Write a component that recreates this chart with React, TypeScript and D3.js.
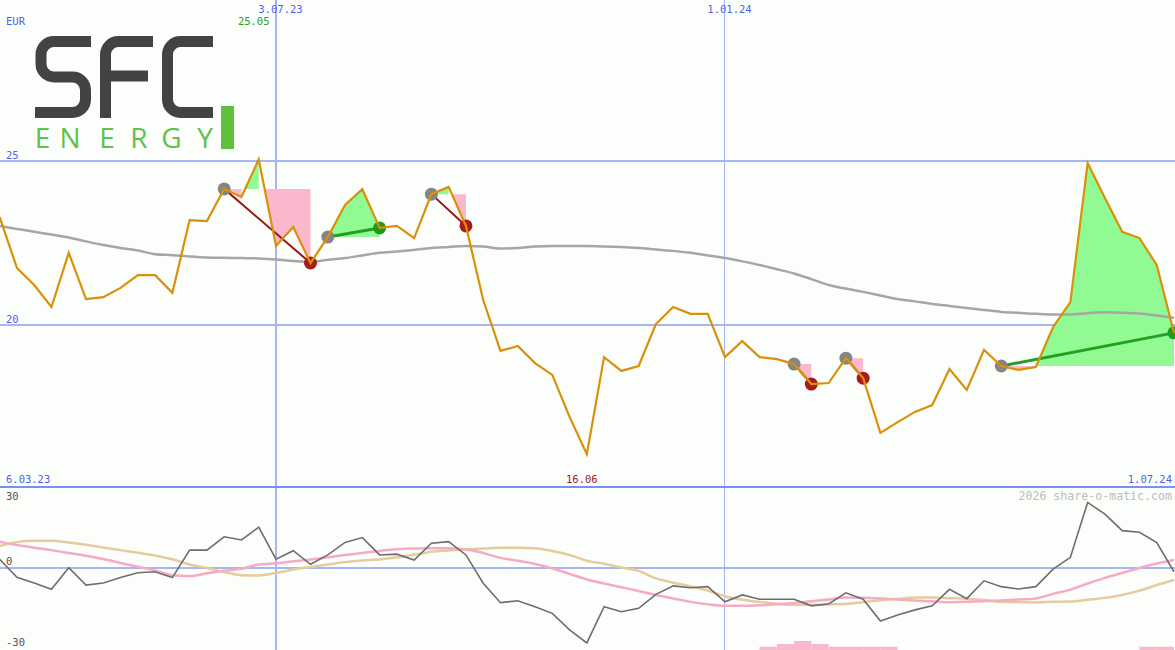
import React from 'react';
import * as d3 from 'd3';

const W = 1175;
const H = 650;

// weekly closing prices (EUR), Mondays from 13.03.23 to 1.07.24
const firstWeek = '2023-03-13';
const lastWeek = '2024-07-01';
const axisStart = '2023-03-06';
const price = [
  23.29, 21.74, 21.22, 20.55, 22.2, 20.79, 20.85, 21.13, 21.52, 21.52,
  20.98, 23.2, 23.17, 24.15, 23.9, 25.05, 22.41, 22.99, 21.89, 22.68,
  23.66, 24.14, 22.96, 23.02, 22.65, 23.99, 24.21, 23.02, 20.76, 19.21,
  19.36, 18.84, 18.48, 17.2, 16.06, 19.02, 18.6, 18.75, 20.03, 20.55,
  20.34, 20.34, 19.02, 19.51, 19.02, 18.96, 18.81, 18.2, 18.23, 18.99,
  18.38, 16.71, 17.04, 17.35, 17.56, 18.66, 18.02, 19.24, 18.75, 18.63,
  18.72, 19.94, 20.7, 24.94, 23.87, 22.84, 22.65, 21.83, 19.76,
];
// long moving average (grey)
const movingAvg = [
  23.02, 22.93, 22.84, 22.76, 22.67, 22.55, 22.44, 22.35, 22.27, 22.16,
  22.13, 22.09, 22.06, 22.05, 22.04, 22.03, 22.0, 21.95, 21.92, 21.99,
  22.04, 22.12, 22.2, 22.24, 22.29, 22.35, 22.38, 22.41, 22.39, 22.33,
  22.35, 22.39, 22.41, 22.41, 22.41, 22.39, 22.38, 22.35, 22.3, 22.26,
  22.2, 22.12, 22.04, 21.94, 21.83, 21.7, 21.57, 21.4, 21.22, 21.11,
  21.01, 20.9, 20.79, 20.72, 20.64, 20.58, 20.52, 20.46, 20.4, 20.37,
  20.34, 20.32, 20.32, 20.36, 20.39, 20.37, 20.35, 20.29, 20.22,
];
// lower panel: momentum (dark grey), pink and tan smoothed lines
const momentum = [
  3.3, -3.5, -5.6, -8.0, 0.1, -6.4, -5.6, -3.6, -1.8, -1.4,
  -3.6, 6.7, 6.7, 11.7, 10.5, 15.3, 3.3, 6.5, 1.4, 4.9,
  9.6, 11.4, 4.9, 5.2, 3.0, 9.3, 9.9, 4.9, -5.7, -13.0,
  -12.3, -14.5, -17.0, -23.2, -28.1, -14.5, -16.4, -15.1, -9.9, -6.7,
  -7.4, -7.0, -12.7, -10.1, -11.7, -11.7, -11.7, -14.2, -13.5, -9.3,
  -11.7, -19.9, -17.6, -15.7, -14.2, -8.0, -11.5, -4.8, -7.0, -7.9,
  -7.0, -0.4, 4.0, 24.6, 20.2, 14.0, 13.4, 9.5, -1.4,
];
const pinkLine = [
  9.9, 8.6, 7.6, 6.7, 5.6, 4.6, 3.4, 1.9, 0.5, -0.9,
  -2.7, -3.0, -2.0, -1.0, -0.3, 1.3, 1.8, 2.5, 3.2, 4.0,
  4.9, 5.6, 6.4, 7.0, 7.3, 7.4, 7.4, 6.9, 5.6, 3.8,
  2.7, 1.5, -0.2, -2.2, -4.3, -5.8, -7.2, -8.6, -10.1, -11.4,
  -12.7, -13.6, -14.2, -14.2, -14.0, -13.6, -13.1, -12.5, -11.8, -11.1,
  -11.2, -11.4, -11.8, -12.2, -12.5, -12.8, -12.7, -12.5, -12.2, -11.8,
  -11.4, -9.7, -8.1, -5.8, -3.7, -1.9, 0.0, 1.7, 3.0,
];
const tanLine = [
  8.2, 9.7, 10.2, 10.2, 9.6, 8.7, 7.7, 6.7, 5.7, 4.7,
  3.3, 1.3, 0.0, -1.5, -2.7, -2.8, -1.9, -0.6, 0.4, 1.3,
  2.2, 2.8, 3.2, 4.0, 5.0, 6.1, 6.6, 7.0, 7.3, 7.6,
  7.6, 7.4, 6.4, 4.9, 2.7, 1.6, 0.2, -1.1, -3.9, -5.5,
  -6.9, -8.5, -10.6, -11.9, -12.7, -13.4, -13.8, -13.8, -13.6, -13.5,
  -12.8, -12.1, -11.6, -11.1, -11.1, -11.3, -11.5, -12.0, -12.7, -12.8,
  -12.9, -12.7, -12.6, -11.9, -11.2, -10.1, -8.5, -6.4, -4.5,
];
// signals
const tradeEntries = ['2023-06-12', '2023-07-24', '2023-09-04', '2024-01-29', '2024-02-19', '2024-04-22'];
const tradeExits = ['2023-07-17', '2023-08-14', '2023-09-18', '2024-02-05', '2024-02-26', '2024-07-01'];
// small pink histogram at the bottom of lower panel
const barDates = ['2024-01-15', '2024-01-22', '2024-01-29', '2024-02-05', '2024-02-12', '2024-02-19', '2024-02-26', '2024-03-04', '2024-06-17', '2024-06-24'];
const barValues = [1.1, 2, 3, 2, 1.1, 1.1, 1.1, 1.1, 1.1, 1.1];
// grid
const gridDates = ['2023-07-03', '2024-01-01'];
const priceTicks = [25, 20];
const lowerTicks = [30, 0, -30];

const parse = d3.utcParse('%Y-%m-%d');
const fmt = d3.utcFormat('%-d.%m.%y');
const dates = d3.utcMonday.range(parse(firstWeek)!, d3.utcDay.offset(parse(lastWeek)!, 1));

const x = d3.scaleUtc().domain([parse(axisStart)!, parse(lastWeek)!]).range([-17.6, 1174]);
const y = d3.scaleLinear().domain([20, 25]).range([325, 161]);
const y2 = d3.scaleLinear().domain([-30, 30]).range([648, 488]);
const barY = d3.scaleLinear().domain([0, 3]).range([650, 641]);

const BLUE_TXT = '#4f5ff2';
const GRID = '#a6b6f4';
const GREEN_FILL = '#92fa92';
const PINK_FILL = '#fab8cc';
const FONT = '"DejaVu Sans Mono", monospace';

const idxOf = (s: string) => dates.findIndex((d) => +d === +parse(s)!);

type Poly = { sign: number; pts: [number, number][] };

function tradePolys(ei: number, xi: number): Poly[] {
  const L = price[ei];
  const out: Poly[] = [];
  let cur: Poly | null = null;
  const px = (i: number) => x(dates[i]);
  for (let k = ei + 1; k <= xi; k++) {
    const s = price[k] >= L ? 1 : -1;
    if (!cur) {
      cur = { sign: s, pts: [[px(ei), y(L)]] };
    } else if (s !== cur.sign) {
      cur.pts.push([px(k - 1), y(L)]);
      out.push(cur);
      const t = (L - price[k - 1]) / (price[k] - price[k - 1]);
      const xc = px(k - 1) + t * (px(k) - px(k - 1));
      cur = { sign: s, pts: [[xc, y(L)]] };
    }
    cur.pts.push([px(k), y(price[k])]);
  }
  if (cur) {
    cur.pts.push([px(xi), y(L)]);
    out.push(cur);
  }
  return out;
}

export default function App() {
  const priceLine = d3.line<number>().x((_, i) => x(dates[i])).y((d) => y(d));
  const maLine = d3.line<number>().x((_, i) => x(dates[i])).y((d) => y(d)).curve(d3.curveMonotoneX);
  const lowLine = d3.line<number>().x((_, i) => x(dates[i])).y((d) => y2(d));
  const lowSmooth = d3.line<number>().x((_, i) => x(dates[i])).y((d) => y2(d)).curve(d3.curveMonotoneX);

  const trades = tradeEntries.map((e, k) => {
    const ei = idxOf(e);
    const xi = idxOf(tradeExits[k]);
    return { ei, xi, win: price[xi] >= price[ei], polys: tradePolys(ei, xi) };
  });

  const maxI = d3.maxIndex(price);
  const minI = d3.minIndex(price);

  return (
    <svg width={W} height={H} style={{ position: 'absolute', left: 0, top: 0, display: 'block' }}>
      <defs>
        <clipPath id="mainClip">
          <rect x={0} y={0} width={W} height={486} />
        </clipPath>
        <clipPath id="lowClip">
          <rect x={0} y={488} width={W} height={H - 488} />
        </clipPath>
      </defs>
      <rect x={0} y={0} width={W} height={H} fill="#fcfefb" />

      {/* grid */}
      {priceTicks.map((t) => (
        <line key={'h' + t} x1={0} x2={W} y1={y(t)} y2={y(t)} stroke={GRID} strokeWidth={2} shapeRendering="crispEdges" />
      ))}
      {gridDates.map((d, k) => (
        <line key={'v' + d} x1={x(parse(d)!)} x2={x(parse(d)!)} y1={0} y2={H} stroke={GRID} strokeWidth={k === 0 ? 2 : 1} shapeRendering="crispEdges" />
      ))}
      <line x1={0} x2={W} y1={y2(0)} y2={y2(0)} stroke={GRID} strokeWidth={2} shapeRendering="crispEdges" />
      <line x1={0} x2={W} y1={487} y2={487} stroke="#7a8ff2" strokeWidth={2} shapeRendering="crispEdges" />

      {/* logo */}
      <g fill="none" stroke="#444244" strokeWidth={11}>
        <path d="M 91 41.5 H 54 A 13 13 0 0 0 41 54.5 V 64 A 13 13 0 0 0 54 77 H 72.5 A 13 13 0 0 1 85.5 90 V 99.5 A 13 13 0 0 1 72.5 112.5 H 35" />
        <path d="M 153 41.5 H 118.5 A 13 13 0 0 0 105.5 54.5 V 118 M 105.5 76 H 148" />
        <path d="M 213 41.5 H 180.5 A 13 13 0 0 0 167.5 54.5 V 99.5 A 13 13 0 0 0 180.5 112.5 H 213" />
      </g>
      <g fill="#60c24a" fontFamily='"Open Sans", sans-serif' fontSize={28} textAnchor="middle">
        {['E', 'N', 'E', 'R', 'G', 'Y'].map((c, k) => (
          <text key={k} x={[42.5, 70, 107, 139, 171.5, 205][k]} y={148}>{c}</text>
        ))}
      </g>
      <rect x={221} y={106} width={13} height={43} fill="#5ec03c" />

      {/* main panel */}
      <g clipPath="url(#mainClip)">
        {trades.map((t, k) =>
          t.polys.map((p, j) => (
            <polygon key={k + '-' + j} points={p.pts.map((q) => q.join(',')).join(' ')} fill={p.sign > 0 ? GREEN_FILL : PINK_FILL} />
          ))
        )}
        <path d={maLine(movingAvg)!} fill="none" stroke="#a6a6a6" strokeWidth={2.5} />
        {trades.map((t, k) => (
          <line key={'c' + k} x1={x(dates[t.ei])} y1={y(price[t.ei])} x2={x(dates[t.xi])} y2={y(price[t.xi])}
            stroke={t.win ? '#22a022' : '#9a1414'} strokeWidth={t.win ? 3 : 2} />
        ))}
        {trades.map((t, k) => (
          <g key={'m' + k}>
            <circle cx={x(dates[t.ei])} cy={y(price[t.ei])} r={6.5} fill="#858585" />
            <circle cx={x(dates[t.xi])} cy={y(price[t.xi])} r={6.5} fill={t.win ? '#1f9a1f' : '#a61c1c'} />
          </g>
        ))}
        <path d={priceLine(price)!} fill="none" stroke="#d9900a" strokeWidth={2.2} strokeLinejoin="miter" />
      </g>

      {/* lower panel */}
      <g clipPath="url(#lowClip)">
        {barDates.map((d, k) => {
          const x0 = x(parse(d)!);
          const x1 = x(d3.utcDay.offset(parse(d)!, 7));
          return <rect key={'b' + k} x={x0} width={x1 - x0} y={barY(barValues[k])} height={barY(0) - barY(barValues[k])} fill={PINK_FILL} />;
        })}
        <path d={lowSmooth(tanLine)!} fill="none" stroke="#e4cc9c" strokeWidth={2.5} />
        <path d={lowSmooth(pinkLine)!} fill="none" stroke="#f7aac4" strokeWidth={2.5} />
        <path d={lowLine(momentum)!} fill="none" stroke="#6e6e6e" strokeWidth={1.6} />
      </g>

      {/* texts */}
      <g fontFamily={FONT} fontSize={10.5}>
        <text x={6} y={25} fill={BLUE_TXT}>EUR</text>
        {priceTicks.map((t) => (
          <text key={'pt' + t} x={6} y={y(t) - 2} fill={BLUE_TXT}>{t}</text>
        ))}
        {gridDates.map((d) => (
          <text key={'gt' + d} x={x(parse(d)!) + 4.5} y={12.5} fill={BLUE_TXT} textAnchor="middle">{fmt(parse(d)!)}</text>
        ))}
        <text x={x(dates[maxI]) - 5} y={25} fill="#2a9a2a" textAnchor="middle">{price[maxI].toFixed(2)}</text>
        <text x={x(dates[minI]) - 5} y={483} fill="#a01818" textAnchor="middle">{price[minI].toFixed(2)}</text>
        <text x={6} y={483} fill={BLUE_TXT}>{fmt(parse(axisStart)!)}</text>
        <text x={1172} y={483} fill={BLUE_TXT} textAnchor="end">{fmt(parse(lastWeek)!)}</text>
        {lowerTicks.map((t) => (
          <text key={'lt' + t} x={6} y={t === 30 ? 500 : t === 0 ? 565 : 646} fill="#555555">{t}</text>
        ))}
        <text x={1172} y={500} fill="#bdbdbd" fontSize={11.6} textAnchor="end">2026 share-o-matic.com</text>
      </g>
    </svg>
  );
}
